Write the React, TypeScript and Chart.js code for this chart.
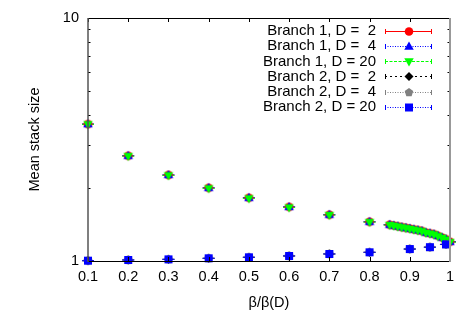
import React, { useEffect, useRef } from 'react';
import { Chart, registerables } from 'chart.js';

Chart.register(...registerables);

// ---- data ----
const xBranch1 = [0.1, 0.2, 0.3, 0.4, 0.5, 0.6, 0.7, 0.8, 0.85, 0.86, 0.87, 0.88, 0.89, 0.9, 0.91, 0.92, 0.93, 0.94, 0.95, 0.96, 0.97, 0.98, 0.99, 1.0];
const yBranch1D2 = [3.66, 2.71, 2.26, 2.0, 1.82, 1.67, 1.55, 1.45, 1.41, 1.4, 1.39, 1.38, 1.37, 1.36, 1.35, 1.34, 1.33, 1.31, 1.3, 1.29, 1.27, 1.25, 1.23, 1.2];
const yBranch1D4 = [3.66, 2.71, 2.26, 2.0, 1.82, 1.67, 1.55, 1.45, 1.41, 1.4, 1.39, 1.38, 1.37, 1.36, 1.35, 1.34, 1.33, 1.31, 1.3, 1.29, 1.27, 1.25, 1.23, 1.2];
const yBranch1D20 = [3.65, 2.7, 2.25, 1.99, 1.81, 1.66, 1.545, 1.445, 1.405, 1.395, 1.385, 1.375, 1.365, 1.355, 1.345, 1.335, 1.325, 1.305, 1.295, 1.285, 1.265, 1.245, 1.225, 1.195];
const xBranch2 = [0.1, 0.2, 0.3, 0.4, 0.5, 0.6, 0.7, 0.8, 0.9, 0.95, 0.99];
const yBranch2D2 = [1.003, 1.01, 1.016, 1.026, 1.036, 1.049, 1.069, 1.086, 1.12, 1.14, 1.17];
const yBranch2D4 = [1.003, 1.01, 1.016, 1.026, 1.036, 1.049, 1.069, 1.086, 1.12, 1.14, 1.17];
const yBranch2D20 = [1.003, 1.01, 1.016, 1.026, 1.036, 1.049, 1.069, 1.086, 1.12, 1.14, 1.17];

const seriesLabels = [
  'Branch 1, D =  2',
  'Branch 1, D =  4',
  'Branch 1, D = 20',
  'Branch 2, D =  2',
  'Branch 2, D =  4',
  'Branch 2, D = 20',
];
const xTickValues = [0.1, 0.2, 0.3, 0.4, 0.5, 0.6, 0.7, 0.8, 0.9, 1.0];
const yTickValues = [1, 2, 3, 4, 5, 6, 7, 8, 9, 10];
const yLabeledTicks = [1, 10];
const xTitle = 'β/β(D)';
const yTitle = 'Mean stack size';

// ---- styles ----
const FONT = "'Liberation Sans', Arial, sans-serif";
type Marker = 'circle' | 'triUp' | 'triDown' | 'diamond' | 'pentagon' | 'square';
const seriesStyles: { color: string; marker: Marker; size: number; dash: number[] }[] = [
  { color: '#ff0000', marker: 'circle', size: 4.3, dash: [] },
  { color: '#0000ff', marker: 'triUp', size: 5, dash: [1, 1.5] },
  { color: '#00ff00', marker: 'triDown', size: 5, dash: [3, 1.5] },
  { color: '#000000', marker: 'diamond', size: 4.5, dash: [2, 3] },
  { color: '#808080', marker: 'pentagon', size: 4.5, dash: [1, 1.5] },
  { color: '#0000ff', marker: 'square', size: 4, dash: [1, 1.5] },
];

function drawMarker(ctx: CanvasRenderingContext2D, m: Marker, x: number, y: number, r: number, color: string) {
  ctx.save();
  ctx.fillStyle = color;
  ctx.beginPath();
  if (m === 'circle') {
    ctx.arc(x, y, r, 0, Math.PI * 2);
  } else if (m === 'triUp') {
    ctx.moveTo(x, y - r);
    ctx.lineTo(x + r * 0.95, y + r * 0.65);
    ctx.lineTo(x - r * 0.95, y + r * 0.65);
  } else if (m === 'triDown') {
    ctx.moveTo(x, y + r);
    ctx.lineTo(x + r * 0.95, y - r * 0.65);
    ctx.lineTo(x - r * 0.95, y - r * 0.65);
  } else if (m === 'diamond') {
    ctx.moveTo(x, y - r);
    ctx.lineTo(x + r, y);
    ctx.lineTo(x, y + r);
    ctx.lineTo(x - r, y);
  } else if (m === 'pentagon') {
    for (let k = 0; k < 5; k++) {
      const a = -Math.PI / 2 + (k * 2 * Math.PI) / 5;
      const px = x + r * Math.cos(a);
      const py = y + r * Math.sin(a);
      if (k === 0) ctx.moveTo(px, py);
      else ctx.lineTo(px, py);
    }
  } else {
    ctx.rect(x - r, y - r, 2 * r, 2 * r);
  }
  ctx.closePath();
  ctx.fill();
  ctx.restore();
}

function markerCanvas(m: Marker, r: number, color: string) {
  const c = document.createElement('canvas');
  const s = Math.ceil(r * 2 + 2);
  c.width = s;
  c.height = s;
  const ctx = c.getContext('2d')!;
  drawMarker(ctx, m, s / 2, s / 2, r, color);
  return c;
}

const capsPlugin = {
  id: 'caps',
  beforeDatasetsDraw(chart: any) {
    const ctx = chart.ctx;
    chart.data.datasets.forEach((ds: any, i: number) => {
      const meta = chart.getDatasetMeta(i);
      ctx.save();
      ctx.strokeStyle = seriesStyles[i].color;
      ctx.lineWidth = 1;
      meta.data.forEach((pt: any) => {
        ctx.beginPath();
        ctx.moveTo(pt.x - 6, pt.y);
        ctx.lineTo(pt.x + 6, pt.y);
        ctx.stroke();
      });
      ctx.restore();
    });
  },
};

const framePlugin = {
  id: 'frame',
  afterDatasetsDraw(chart: any) {
    const ctx = chart.ctx;
    const { left, right, top, bottom } = chart.chartArea;
    const xs = chart.scales.x;
    const ys = chart.scales.y;
    ctx.save();
    ctx.lineWidth = 1;
    ctx.strokeStyle = '#000';
    xTickValues.forEach((v) => {
      const px = Math.round(xs.getPixelForValue(v)) + 0.5;
      ctx.beginPath();
      ctx.moveTo(px, bottom);
      ctx.lineTo(px, bottom - 4);
      ctx.moveTo(px, top);
      ctx.lineTo(px, top + 4);
      ctx.stroke();
    });
    yTickValues.forEach((v) => {
      const py = Math.round(ys.getPixelForValue(v)) + 0.5;
      const len = yLabeledTicks.includes(v) ? 4 : 2.5;
      ctx.beginPath();
      ctx.moveTo(left, py);
      ctx.lineTo(left + len, py);
      ctx.moveTo(right, py);
      ctx.lineTo(right - len, py);
      ctx.stroke();
    });
    // border
    ctx.beginPath();
    ctx.moveTo(left, top + 0.5);
    ctx.lineTo(right, top + 0.5);
    ctx.moveTo(left, bottom + 0.5);
    ctx.lineTo(right, bottom + 0.5);
    ctx.stroke();
    ctx.strokeStyle = '#555';
    ctx.lineWidth = 1.5;
    ctx.beginPath();
    ctx.moveTo(left, top);
    ctx.lineTo(left, bottom + 1);
    ctx.stroke();
    ctx.strokeStyle = '#999';
    ctx.lineWidth = 2;
    ctx.beginPath();
    ctx.moveTo(right, top);
    ctx.lineTo(right, bottom + 1);
    ctx.stroke();
    ctx.restore();
  },
};

const legendPlugin = {
  id: 'gpLegend',
  afterDraw(chart: any) {
    const ctx = chart.ctx;
    ctx.save();
    ctx.font = `15px ${FONT}`;
    ctx.textAlign = 'right';
    ctx.textBaseline = 'middle';
    seriesLabels.forEach((lab, i) => {
      const st = seriesStyles[i];
      const y = 30.5 + i * 15.25;
      const yy = Math.round(y) + 0.5;
      ctx.fillStyle = '#000';
      ctx.fillText(lab, 376, y + 0.5);
      ctx.strokeStyle = st.color;
      ctx.lineWidth = 1;
      ctx.setLineDash(st.dash);
      ctx.beginPath();
      ctx.moveTo(385, yy);
      ctx.lineTo(432, yy);
      ctx.stroke();
      ctx.setLineDash([]);
      ctx.beginPath();
      ctx.moveTo(385.5, yy - 2.5);
      ctx.lineTo(385.5, yy + 2.5);
      ctx.moveTo(431.5, yy - 2.5);
      ctx.lineTo(431.5, yy + 2.5);
      ctx.stroke();
      drawMarker(ctx, st.marker, 409, yy, st.size, st.color);
    });
    ctx.restore();
  },
};

export default function App() {
  const ref = useRef<HTMLCanvasElement>(null);

  useEffect(() => {
    if (!ref.current) return;
    const ys = [yBranch1D2, yBranch1D4, yBranch1D20, yBranch2D2, yBranch2D4, yBranch2D20];
    const xsets = [xBranch1, xBranch1, xBranch1, xBranch2, xBranch2, xBranch2];
    const datasets = ys.map((arr, i) => ({
      label: seriesLabels[i],
      data: arr.map((v, k) => ({ x: xsets[i][k], y: v })),
      showLine: false,
      pointStyle: markerCanvas(seriesStyles[i].marker, seriesStyles[i].size, seriesStyles[i].color),
      pointRadius: seriesStyles[i].size,
      backgroundColor: seriesStyles[i].color,
      borderColor: seriesStyles[i].color,
      clip: false as any,
      order: 5 - i,
    }));

    const chart = new Chart(ref.current, {
      type: 'scatter',
      data: { datasets },
      plugins: [capsPlugin, framePlugin, legendPlugin],
      options: {
        animation: false,
        responsive: false,
        layout: { padding: { top: 18, right: 17, left: 0, bottom: 0 } },
        plugins: { legend: { display: false }, tooltip: { enabled: false } },
        scales: {
          x: {
            type: 'linear',
            min: 0.1,
            max: 1,
            afterBuildTicks: (s: any) => {
              s.ticks = xTickValues.map((v) => ({ value: v }));
            },
            afterFit: (s: any) => {
              s.height = 66;
            },
            ticks: {
              callback: (v: any) => String(Number(Number(v).toFixed(1))),
              font: { family: FONT, size: 14.5 },
              color: '#000',
              padding: 7,
              maxRotation: 0,
              autoSkip: false,
            },
            grid: { display: false, drawTicks: false },
            border: { display: false },
            title: {
              display: true,
              text: xTitle,
              font: { family: FONT, size: 14.5 },
              color: '#000',
              padding: { top: 4, bottom: 15 },
            },
          },
          y: {
            type: 'logarithmic',
            min: 1,
            max: 10,
            afterBuildTicks: (s: any) => {
              s.ticks = yTickValues.map((v) => ({ value: v }));
            },
            afterFit: (s: any) => {
              s.width = 88;
            },
            ticks: {
              callback: (v: any) => (yLabeledTicks.includes(Number(v)) ? String(v) : ''),
              font: { family: FONT, size: 14.5 },
              color: '#000',
              padding: 9,
              autoSkip: false,
            },
            grid: { display: false, drawTicks: false },
            border: { display: false },
            title: {
              display: true,
              text: yTitle,
              font: { family: FONT, size: 14.5 },
              color: '#000',
              padding: { top: 26, bottom: 0 },
            },
          },
        },
      },
    });
    return () => chart.destroy();
  }, []);

  return (
    <div style={{ position: 'absolute', left: 0, top: 0, width: 467, height: 327, background: '#fff' }}>
      <canvas ref={ref} width={467} height={327} style={{ display: 'block' }} />
    </div>
  );
}
